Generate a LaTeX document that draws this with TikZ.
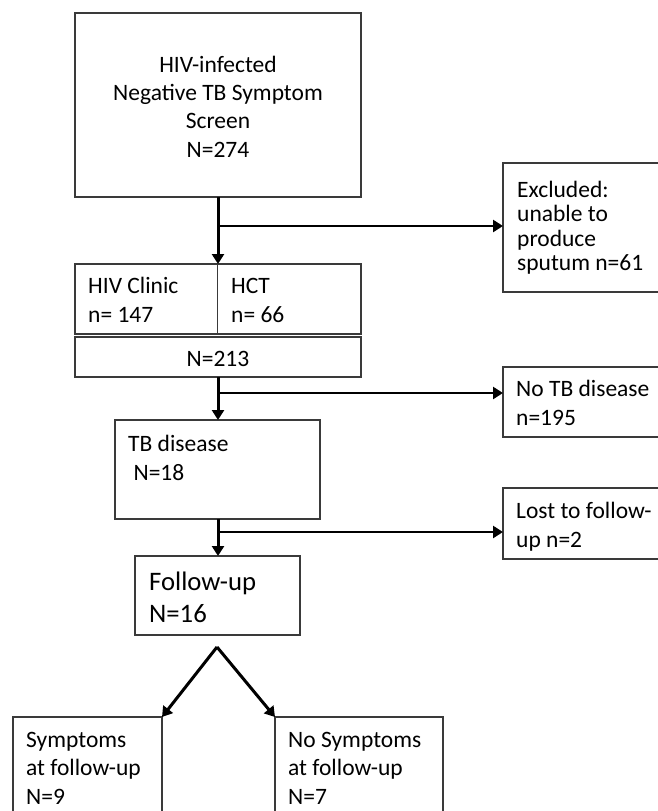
\documentclass[tikz,border=0pt]{standalone}
\usepackage{fontspec}
\setmainfont{Carlito}
\usetikzlibrary{arrows.meta}
\definecolor{boxgray}{HTML}{3A3A3A}

\begin{document}
\begin{tikzpicture}[x=1pt, y=-1pt,
  box/.style={draw=boxgray, line width=1.6pt, inner sep=0pt, outer sep=0pt, anchor=north west},
  txt/.style={font=\fontsize{23.5}{28.3}\selectfont, align=left, inner sep=0pt, anchor=base west},
  main/.style={line width=3pt, -{Triangle[width=12pt,length=10pt]}},
  side/.style={line width=2.5pt, -{Triangle[width=12pt,length=10pt]}},
]
  \useasboundingbox (0,0) rectangle (657,811);

  % Main column
  \node[box, minimum width=286pt, minimum height=184pt] (screen) at (75,13) {};
  \node[box, minimum width=142.5pt, minimum height=70pt] (clinic) at (75,264) {};
  \node[box, minimum width=143.5pt, minimum height=70pt] (hct) at (217.5,264) {};
  \node[box, minimum width=286pt, minimum height=40pt] (total) at (75,337) {};
  \node[box, minimum width=205pt, minimum height=99pt] (tb) at (115,420) {};
  \node[box, minimum width=165pt, minimum height=79pt] (fu) at (135,556) {};

  % Side boxes (cut off at the page edge)
  \node[box, minimum width=160pt, minimum height=129pt] (excl) at (503,163) {};
  \node[box, minimum width=160pt, minimum height=70pt] (notb) at (503,367) {};
  \node[box, minimum width=160pt, minimum height=71pt] (lost) at (503,488) {};

  % Bottom boxes
  \node[box, minimum width=149pt, minimum height=110pt] (sym) at (13,717) {};
  \node[box, minimum width=168pt, minimum height=110pt] (nosym) at (275,717) {};

  % Texts (placed at the baseline of their last line)
  \node[txt, anchor=base, align=center] (screenT) at (218,157) {HIV-infected\\Negative TB Symptom\\Screen\\N=274};
  \node[txt] (clinicT) at (88,322) {HIV Clinic\\n= 147};
  \node[txt] (hctT) at (231,322) {HCT\\n= 66};
  \node[txt, anchor=base] (totalT) at (218,366) {N=213};
  \node[txt] (tbT) at (128,480) {TB disease\\\hspace*{0.23em}N=18};
  \node[txt, font=\fontsize{26.7}{32}\selectfont] (fuT) at (149,622) {Follow-up\\N=16};
  \node[txt, font=\fontsize{23.5}{24.5}\selectfont] (exclT) at (517,270.5) {Excluded:\\unable to\\produce\\sputum n=61};
  \node[txt] (notbT) at (516,425) {No TB disease\\n=195};
  \node[txt] (lostT) at (516,547) {Lost to follow-\\up n=2};
  \node[txt] (symT) at (26,804) {Symptoms\\at follow-up\\N=9};
  \node[txt] (nosymT) at (288,804) {No Symptoms\\at follow-up\\N=7};

  % Arrows
  \coordinate (j1) at (218,226);
  \coordinate (j2) at (218,393);
  \coordinate (j3) at (218,532);
  \coordinate (split) at (217,647);
  \draw[main] (screen.south -| j1) -- (j1 |- clinic.north);
  \draw[main] (total.south -| j2) -- (j2 |- tb.north);
  \draw[main] (tb.south -| j3) -- (j3 |- fu.north);
  \foreach \j/\b in {j1/excl, j2/notb, j3/lost}
    \draw[side] (\j) -- (\j -| \b.west);
  \draw[main] (split) -- (sym.north east);
  \draw[main] (split) -- (nosym.north west);
\end{tikzpicture}
\end{document}
